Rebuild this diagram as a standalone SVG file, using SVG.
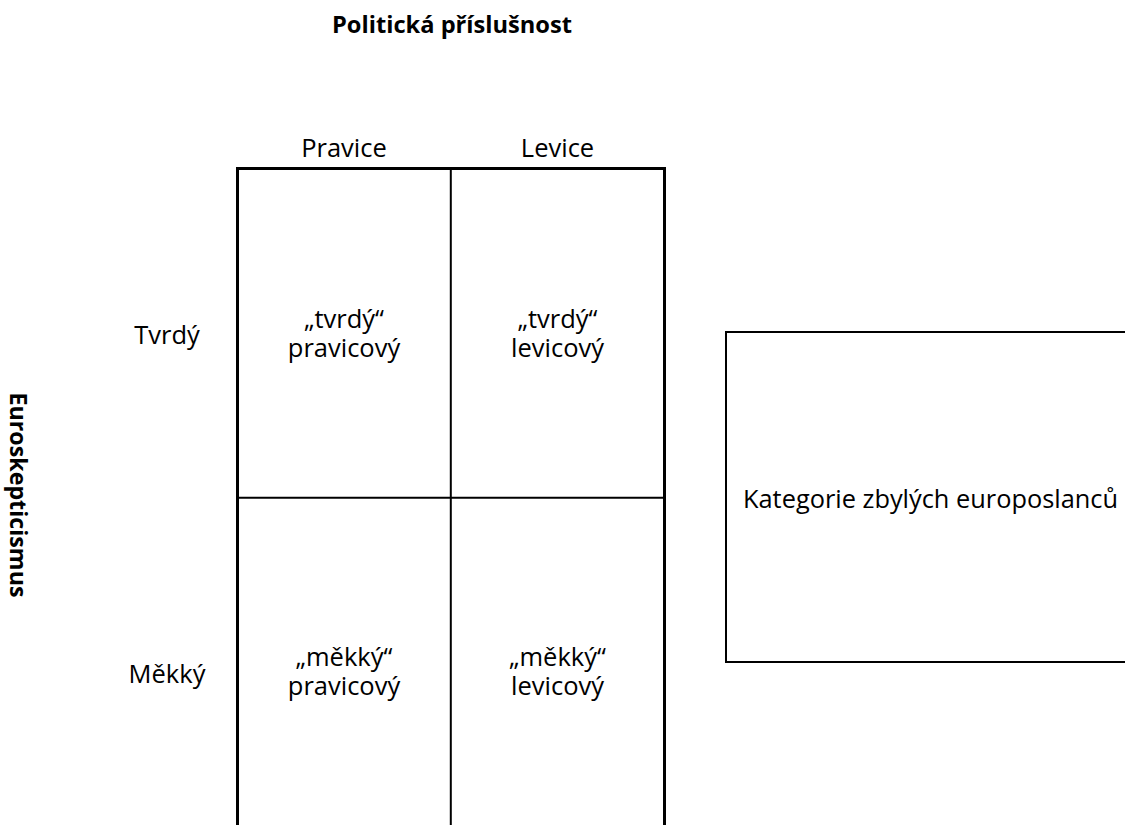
<svg xmlns="http://www.w3.org/2000/svg" width="1125" height="825" viewBox="0 0 1125 825">
  <style>
    text { font-family: "Open Sans", "Noto Sans", "Liberation Sans", sans-serif; fill: #000; }
    .lbl { font-size: 25.5px; text-anchor: middle; }
    .bold { font-size: 24px; font-weight: bold; text-anchor: middle; }
    .thick { stroke: #000; stroke-width: 3; fill: none; }
    .thin { stroke: #000; stroke-width: 2; fill: none; }
  </style>
  <rect width="1125" height="825" fill="#fff"/>

  <g id="title">
    <text class="bold" x="452" y="33" textLength="240" lengthAdjust="spacingAndGlyphs">Politická příslušnost</text>
  </g>

  <g id="axis-y">
    <text class="bold" transform="translate(10,495) rotate(90)" x="0" y="0" textLength="205" lengthAdjust="spacingAndGlyphs">Euroskepticismus</text>
  </g>

  <g id="column-labels">
    <text class="lbl" x="344" y="157">Pravice</text>
    <text class="lbl" x="557.5" y="157">Levice</text>
  </g>

  <g id="row-labels">
    <text class="lbl" x="167" y="344">Tvrdý</text>
    <text class="lbl" x="167" y="683">Měkký</text>
  </g>

  <g id="connectors">
    <line class="thick" x1="237.5" y1="167" x2="237.5" y2="825"/>
    <line class="thick" x1="664.5" y1="167" x2="664.5" y2="825"/>
    <line class="thick" x1="236" y1="168.5" x2="666" y2="168.5"/>
    <line class="thin" x1="450.8" y1="168" x2="450.8" y2="825"/>
    <line class="thin" x1="237.5" y1="497.8" x2="664.5" y2="497.8"/>
  </g>

  <g id="cell-hard-right">
    <text class="lbl" x="344" y="328">„tvrdý“<tspan x="344" dy="29">pravicový</tspan></text>
  </g>
  <g id="cell-hard-left">
    <text class="lbl" x="557.5" y="328">„tvrdý“<tspan x="557.5" dy="29">levicový</tspan></text>
  </g>
  <g id="cell-soft-right">
    <text class="lbl" x="344" y="666">„měkký“<tspan x="344" dy="29">pravicový</tspan></text>
  </g>
  <g id="cell-soft-left">
    <text class="lbl" x="557.5" y="666">„měkký“<tspan x="557.5" dy="29">levicový</tspan></text>
  </g>

  <g id="box-remaining">
    <rect class="thin" x="726" y="332" width="420" height="330"/>
    <text class="lbl" x="930.5" y="508" textLength="375" lengthAdjust="spacingAndGlyphs">Kategorie zbylých europoslanců</text>
  </g>
</svg>
